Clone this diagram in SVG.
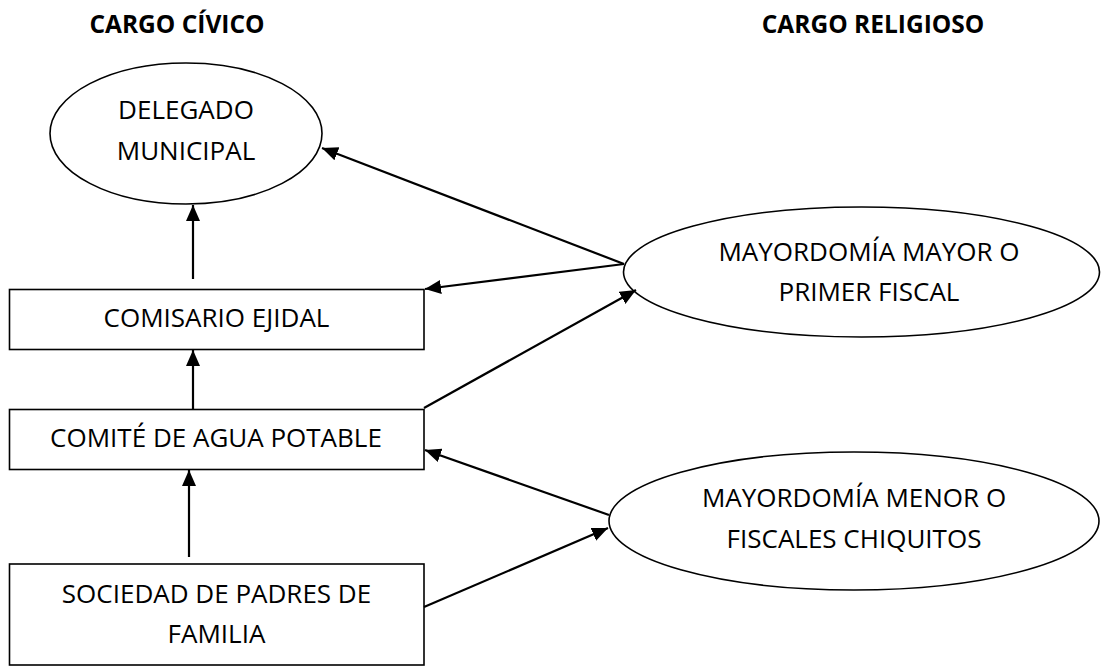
<svg xmlns="http://www.w3.org/2000/svg" width="1104" height="667" viewBox="0 0 1104 667">
<style>
.bg{fill:#ffffff}
.node{fill:#ffffff;stroke:#000000;stroke-width:1.6}
.lbl{font-family:"Open Sans","Lato","Liberation Sans",sans-serif;font-size:26px;fill:#000000;text-anchor:middle}
.hdr{font-family:"Open Sans","Lato","Liberation Sans",sans-serif;font-size:24.5px;font-weight:bold;fill:#000000;text-anchor:middle}
.edge{stroke:#000000;stroke-width:2.2;fill:none;marker-end:url(#arrow)}
</style>
<defs>
<marker id="arrow" markerUnits="userSpaceOnUse" markerWidth="17" markerHeight="15" refX="16" refY="7" orient="auto">
<path d="M0,0 L16,7 L0,14 z" fill="#000000"/>
</marker>
</defs>
<rect class="bg" x="0" y="0" width="1104" height="667"/>
<g id="headers">
<text class="hdr" x="177" y="33">CARGO CÍVICO</text>
<text class="hdr" x="873" y="33">CARGO RELIGIOSO</text>
</g>
<g id="delegado">
<ellipse class="node" cx="186" cy="133.5" rx="136" ry="70.5"/>
<text class="lbl" x="186" y="119">DELEGADO</text>
<text class="lbl" x="186" y="160">MUNICIPAL</text>
</g>
<g id="comisario">
<rect class="node" x="9.5" y="289.5" width="414.5" height="60"/>
<text class="lbl" x="216.5" y="327">COMISARIO EJIDAL</text>
</g>
<g id="comite">
<rect class="node" x="9.5" y="409.5" width="414.5" height="60"/>
<text class="lbl" x="216" y="447">COMITÉ DE AGUA POTABLE</text>
</g>
<g id="sociedad">
<rect class="node" x="9.5" y="564" width="414.5" height="101"/>
<text class="lbl" x="216.5" y="603">SOCIEDAD DE PADRES DE</text>
<text class="lbl" x="216.5" y="643">FAMILIA</text>
</g>
<g id="mayor">
<ellipse class="node" cx="861.5" cy="272" rx="238" ry="65"/>
<text class="lbl" x="869" y="261">MAYORDOMÍA MAYOR O</text>
<text class="lbl" x="869" y="301">PRIMER FISCAL</text>
</g>
<g id="menor">
<ellipse class="node" cx="854" cy="521" rx="245" ry="69"/>
<text class="lbl" x="854" y="507">MAYORDOMÍA MENOR O</text>
<text class="lbl" x="854" y="548">FISCALES CHIQUITOS</text>
</g>
<g id="connectors">
<line class="edge" x1="193" y1="279" x2="193" y2="205"/>
<line class="edge" x1="193" y1="409" x2="193" y2="350"/>
<line class="edge" x1="189" y1="557" x2="189" y2="470"/>
<line class="edge" x1="624" y1="264" x2="322" y2="148"/>
<line class="edge" x1="624" y1="264" x2="425" y2="289"/>
<line class="edge" x1="424" y1="408" x2="636" y2="290"/>
<line class="edge" x1="609" y1="515" x2="425" y2="450"/>
<line class="edge" x1="424" y1="607" x2="608" y2="528"/>
</g>
</svg>
